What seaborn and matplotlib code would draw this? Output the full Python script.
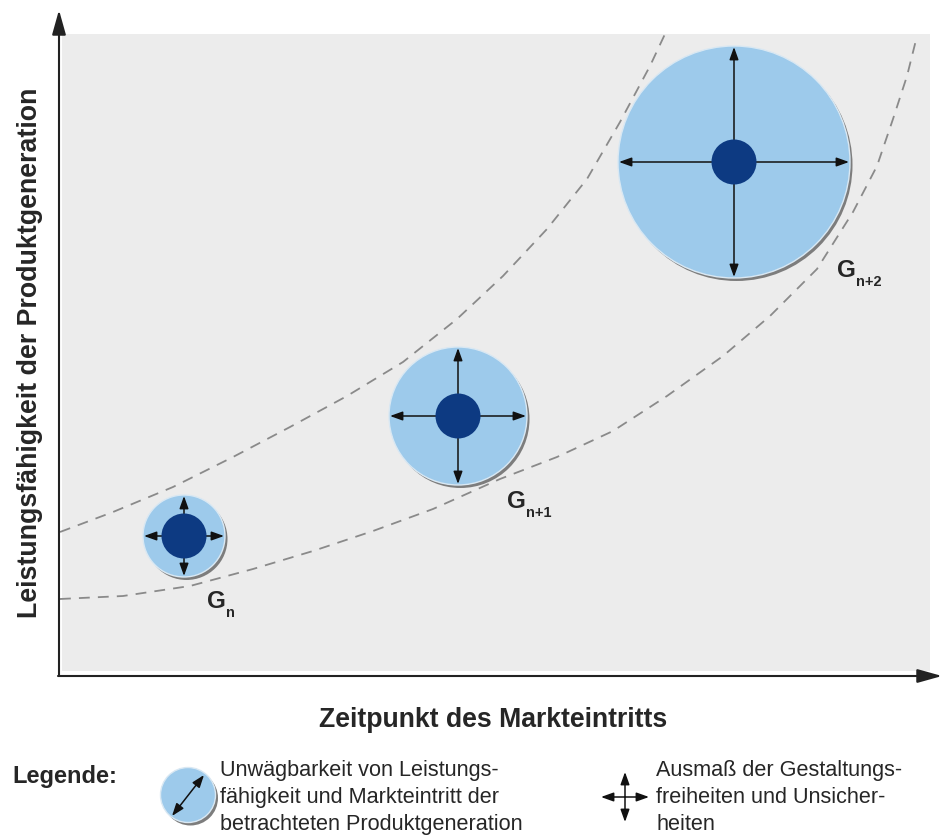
import matplotlib
matplotlib.use("Agg")
import matplotlib.pyplot as plt
import seaborn as sns
import pandas as pd
import numpy as np
from matplotlib.patches import Circle, Rectangle

# ---------------- data (pixel space) ----------------
gen_names = ["n", "n+1", "n+2"]
gen_x = [184, 458, 734]          # market-entry time (px)
gen_y = [537, 417, 163]          # performance (px, inverted)
uncert_r = [41, 69, 116]         # radius of uncertainty circle
core_r = [22.5, 22.5, 22.5]      # radius of the dark core

upper_x = [60, 113, 173, 233, 290, 347, 403, 457, 503, 547, 587, 620, 650, 665]
upper_y = [533, 513, 488, 458, 428, 397, 363, 320, 277, 230, 180, 123, 67, 35]
lower_x = [60, 123, 190, 253, 313, 373, 433, 500, 557, 613, 667, 723, 770, 817, 853, 877, 893, 907, 917]
lower_y = [600, 597, 587, 570, 552, 532, 510, 480, 458, 432, 397, 357, 317, 270, 213, 167, 120, 77, 37]

y_label = "Leistungsfähigkeit der Produktgeneration"
x_label = "Zeitpunkt des Markteintritts"
legend_title = "Legende:"
legend_text1 = ["Unwägbarkeit von Leistungs-", "fähigkeit und Markteintritt der", "betrachteten Produktgeneration"]
legend_text2 = ["Ausmaß der Gestaltungs-", "freiheiten und Unsicher-", "heiten"]

# label offsets (layout) relative to circle centre
label_dx = [23, 49, 103]
label_dy = [71, 91, 114]

# ---------------- style ----------------
sns.set_theme(style="white")
plt.rcParams['font.family'] = ['Liberation Sans', 'DejaVu Sans']

LIGHT = "#9dcaeb"
NAVY = "#0d3a82"
BG = "#ececec"
AX_COL = "#222222"
DASH_COL = "#8a8a8a"

W, H = 942, 837
fig = plt.figure(figsize=(W / 100, H / 100), dpi=100)
ax = fig.add_axes([0, 0, 1, 1])
ax.set_xlim(0, W)
ax.set_ylim(H, 0)
ax.axis("off")
renderer = fig.canvas.get_renderer()


def fit_text(x, y, s, target, dim="w", **kw):
    t = ax.text(x, y, s, fontsize=10, **kw)
    bb = t.get_window_extent(renderer=renderer)
    size = bb.width if dim == "w" else bb.height
    t.set_fontsize(10 * target / size)
    return t


# plot area background
ax.add_patch(Rectangle((62, 35), 868, 637, facecolor=BG, edgecolor="none", zorder=0))

# axes with arrows
ax.annotate("", xy=(59, 11), xytext=(59, 677),
            arrowprops=dict(arrowstyle="-|>,head_length=1.0,head_width=0.28",
                            mutation_scale=15, lw=1.5, color=AX_COL,
                            shrinkA=0, shrinkB=0), zorder=5)
ax.annotate("", xy=(942, 677), xytext=(58, 677),
            arrowprops=dict(arrowstyle="-|>,head_length=1.0,head_width=0.28",
                            mutation_scale=15, lw=1.5, color=AX_COL,
                            shrinkA=0, shrinkB=0), zorder=5)

# dashed envelope curves
curves = pd.concat([
    pd.DataFrame({"x": upper_x, "y": upper_y, "curve": "upper"}),
    pd.DataFrame({"x": lower_x, "y": lower_y, "curve": "lower"}),
])
for name, grp in curves.groupby("curve"):
    sns.lineplot(data=grp, x="x", y="y", sort=False, estimator=None, ax=ax,
                 color=DASH_COL, lw=1.3, zorder=1)
    ax.lines[-1].set_dashes([6, 4.5])
ax.set_xlim(0, W)
ax.set_ylim(H, 0)
ax.axis("off")

arrow_kw = dict(arrowstyle="-|>,head_length=1.0,head_width=0.36",
                mutation_scale=7.5, lw=1.1, color="#111111", shrinkA=0, shrinkB=0)


def draw_circle(cx, cy, r, zbase):
    ax.add_patch(Circle((cx + 2.5, cy + 3), r, facecolor="#7d7d7d", edgecolor="none", zorder=zbase))
    ax.add_patch(Circle((cx, cy), r, facecolor=LIGHT, edgecolor="#d9e8f3", lw=1.0, zorder=zbase + 0.1))


for i, name in enumerate(gen_names):
    cx, cy, r, rc = gen_x[i], gen_y[i], uncert_r[i], core_r[i]
    draw_circle(cx, cy, r, 2)
    for dx, dy in [(1, 0), (-1, 0), (0, 1), (0, -1)]:
        ax.annotate("", xy=(cx + dx * (r - 1), cy + dy * (r - 1)), xytext=(cx, cy),
                    arrowprops=arrow_kw, zorder=3)
    ax.add_patch(Circle((cx, cy), rc, facecolor=NAVY, edgecolor="none", zorder=4))
    lx, ly = cx + label_dx[i], cy + label_dy[i]
    g = ax.text(lx, ly, "G", fontsize=17.5, fontweight="bold", ha="left", va="baseline",
                zorder=6)
    bb = g.get_window_extent(renderer=renderer)
    ax.text(lx + bb.width + 0.5, ly + 9, name, fontsize=10.5, fontweight="bold",
            ha="left", va="baseline", zorder=6)

# axis titles
fit_text(30, 353, y_label, 533, dim="h", rotation=90, fontweight="bold",
         ha="center", va="center")
fit_text(493, 727, x_label, 350, fontweight="bold", ha="center", va="baseline")

# legend
fit_text(12, 783, legend_title, 106, fontweight="bold", ha="left", va="baseline")
draw_circle(188, 796, 27.5, 2)
ax.annotate("", xy=(204, 776), xytext=(172, 817),
            arrowprops=dict(arrowstyle="<|-|>,head_length=1.0,head_width=0.36",
                            mutation_scale=7.5, lw=1.1, color="#111111",
                            shrinkA=0, shrinkB=0), zorder=4)
fs = 15.6
for j, line in enumerate(legend_text1):
    ax.text(220, 776 + 27 * j, line, fontsize=fs, ha="left", va="baseline")
for j, line in enumerate(legend_text2):
    ax.text(656, 776 + 27 * j, line, fontsize=fs, ha="left", va="baseline")

ccx, ccy = 625, 798
for dx, dy in [(1, 0), (-1, 0), (0, 1), (0, -1)]:
    ax.annotate("", xy=(ccx + dx * 24, ccy + dy * 25), xytext=(ccx, ccy),
                arrowprops=arrow_kw, zorder=4)

fig.savefig("out.png", dpi=100, facecolor="white")
